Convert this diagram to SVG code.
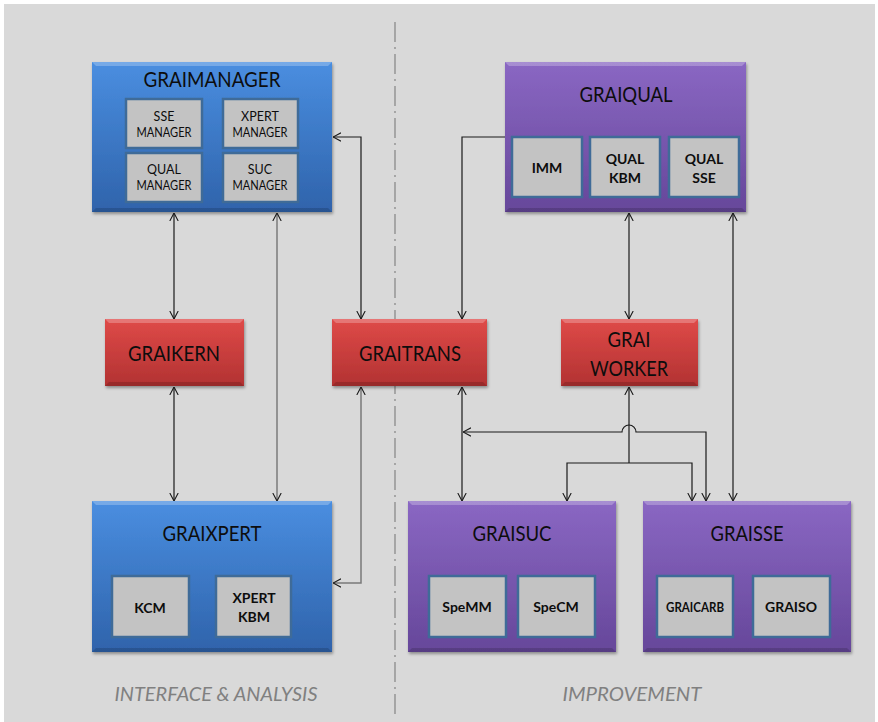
<svg xmlns="http://www.w3.org/2000/svg" width="878" height="722" viewBox="0 0 878 722">
<defs>
<linearGradient id="gBlue" x1="0" y1="0" x2="0" y2="1"><stop offset="0" stop-color="#4a8ee0"/><stop offset="1" stop-color="#2f63ab"/></linearGradient>
<linearGradient id="gPurple" x1="0" y1="0" x2="0" y2="1"><stop offset="0" stop-color="#8a67c3"/><stop offset="1" stop-color="#66479a"/></linearGradient>
<linearGradient id="gRed" x1="0" y1="0" x2="0" y2="1"><stop offset="0" stop-color="#df4a48"/><stop offset="1" stop-color="#b23232"/></linearGradient>
<filter id="sh" x="-5%" y="-5%" width="112%" height="115%"><feDropShadow dx="1" dy="2" stdDeviation="1.5" flood-color="#000" flood-opacity="0.35"/></filter>
<marker id="ah" viewBox="0 0 8 10" refX="8" refY="5" markerWidth="8" markerHeight="10" markerUnits="userSpaceOnUse" orient="auto-start-reverse"><path d="M0,0.8 L8,5 L0,9.2" fill="none" stroke="#1a1a1a" stroke-width="1.1"/></marker>
<style>
.box{filter:url(#sh)}
.blue{fill:url(#gBlue)}
.purple{fill:url(#gPurple)}
.red{fill:url(#gRed)}
.hi{fill:#ffffff;opacity:0.25}
.lo{fill:#000000;opacity:0.15}
.inner{fill:#c3c3c3;stroke:#3f6b98;stroke-width:2.5}
.t{font-family:Lato,"Liberation Sans",sans-serif;fill:#0d0d0d;text-anchor:middle}
.title{font-size:21px}
.small{font-size:12.5px}
.bold{font-size:14px;font-weight:bold}
.lbl{font-family:Lato,"Liberation Sans",sans-serif;font-style:italic;font-size:19px;fill:#808080;text-anchor:middle}
.c{fill:none;stroke:#1a1a1a;stroke-width:1.2}
.cg{fill:none;stroke:#7a7a7a;stroke-width:1.5}
</style>
</defs>
<rect x="0" y="0" width="878" height="722" fill="#ffffff"/>
<rect x="4" y="4" width="871" height="718" fill="#d9d9d9"/>
<path d="M395,22 V716" stroke="#8a8a8a" stroke-width="1.3" stroke-dasharray="20 5 2 5" fill="none"/>

<g id="graimanager">
<rect class="box blue" x="92" y="62" width="240" height="150"/>
<polygon class="hi" points="92,62 332,62 328,66 96,66"/>
<polygon class="lo" points="92,212 332,212 328,208 96,208"/>
<text class="t title" x="212" y="87" textLength="137" lengthAdjust="spacingAndGlyphs">GRAIMANAGER</text>
<rect class="inner" x="126" y="99" width="76" height="49"/>
<text class="t small" x="164" y="121">SSE</text><text class="t small" x="164" y="137" textLength="55" lengthAdjust="spacingAndGlyphs">MANAGER</text>
<rect class="inner" x="223" y="99" width="75" height="49"/>
<text class="t small" x="260" y="121">XPERT</text><text class="t small" x="260" y="137" textLength="55" lengthAdjust="spacingAndGlyphs">MANAGER</text>
<rect class="inner" x="126" y="153" width="76" height="49"/>
<text class="t small" x="164" y="174">QUAL</text><text class="t small" x="164" y="190" textLength="55" lengthAdjust="spacingAndGlyphs">MANAGER</text>
<rect class="inner" x="223" y="153" width="75" height="49"/>
<text class="t small" x="260" y="174">SUC</text><text class="t small" x="260" y="190" textLength="55" lengthAdjust="spacingAndGlyphs">MANAGER</text>
</g>

<g id="graiqual">
<rect class="box purple" x="505" y="62" width="241" height="150"/>
<polygon class="hi" points="505,62 746,62 742,66 509,66"/>
<polygon class="lo" points="505,212 746,212 742,208 509,208"/>
<text class="t title" x="626" y="102" textLength="93" lengthAdjust="spacingAndGlyphs">GRAIQUAL</text>
<rect class="inner" x="512" y="137" width="70" height="60"/>
<text class="t bold" x="547" y="173">IMM</text>
<rect class="inner" x="590" y="137" width="70" height="60"/>
<text class="t bold" x="625" y="164">QUAL</text><text class="t bold" x="625" y="183">KBM</text>
<rect class="inner" x="669" y="137" width="70" height="60"/>
<text class="t bold" x="704" y="164">QUAL</text><text class="t bold" x="704" y="183">SSE</text>
</g>

<g id="graikern">
<rect class="box red" x="105" y="319" width="139" height="67"/>
<polygon class="hi" points="105,319 244,319 240,323 109,323"/>
<polygon class="lo" points="105,386 244,386 240,382 109,382"/>
<text class="t title" x="174" y="361" textLength="92" lengthAdjust="spacingAndGlyphs">GRAIKERN</text>
</g>

<g id="graitrans">
<rect class="box red" x="332" y="319" width="155" height="67"/>
<polygon class="hi" points="332,319 487,319 483,323 336,323"/>
<polygon class="lo" points="332,386 487,386 483,382 336,382"/>
<text class="t title" x="410" y="361" textLength="102" lengthAdjust="spacingAndGlyphs">GRAITRANS</text>
</g>

<g id="graiworker">
<rect class="box red" x="561" y="319" width="137" height="67"/>
<polygon class="hi" points="561,319 698,319 694,323 565,323"/>
<polygon class="lo" points="561,386 698,386 694,382 565,382"/>
<text class="t title" x="629" y="347" textLength="43" lengthAdjust="spacingAndGlyphs">GRAI</text>
<text class="t title" x="629" y="376" textLength="78" lengthAdjust="spacingAndGlyphs">WORKER</text>
</g>

<g id="graixpert">
<rect class="box blue" x="92" y="501" width="240" height="151"/>
<polygon class="hi" points="92,501 332,501 328,505 96,505"/>
<polygon class="lo" points="92,652 332,652 328,648 96,648"/>
<text class="t title" x="212" y="541" textLength="99" lengthAdjust="spacingAndGlyphs">GRAIXPERT</text>
<rect class="inner" x="112" y="576" width="77" height="61"/>
<text class="t bold" x="150" y="613">KCM</text>
<rect class="inner" x="216" y="576" width="75" height="61"/>
<text class="t bold" x="254" y="603">XPERT</text><text class="t bold" x="254" y="622">KBM</text>
</g>

<g id="graisuc">
<rect class="box purple" x="408" y="501" width="208" height="151"/>
<polygon class="hi" points="408,501 616,501 612,505 412,505"/>
<polygon class="lo" points="408,652 616,652 612,648 412,648"/>
<text class="t title" x="512" y="541" textLength="79" lengthAdjust="spacingAndGlyphs">GRAISUC</text>
<rect class="inner" x="429" y="576" width="77" height="61"/>
<text class="t bold" x="467" y="612">SpeMM</text>
<rect class="inner" x="518" y="576" width="77" height="61"/>
<text class="t bold" x="556" y="612">SpeCM</text>
</g>

<g id="graisse">
<rect class="box purple" x="643" y="501" width="208" height="151"/>
<polygon class="hi" points="643,501 851,501 847,505 647,505"/>
<polygon class="lo" points="643,652 851,652 847,648 647,648"/>
<text class="t title" x="747" y="541" textLength="73" lengthAdjust="spacingAndGlyphs">GRAISSE</text>
<rect class="inner" x="657" y="576" width="76" height="61"/>
<text class="t bold" x="695" y="612" textLength="58" lengthAdjust="spacingAndGlyphs">GRAICARB</text>
<rect class="inner" x="753" y="576" width="77" height="61"/>
<text class="t bold" x="791" y="612">GRAISO</text>
</g>

<g id="connectors">
<path class="c" d="M174,213 V319" marker-start="url(#ah)" marker-end="url(#ah)"/>
<path class="c" d="M174,387 V501" marker-start="url(#ah)" marker-end="url(#ah)"/>
<path class="cg" d="M277,213 V501" marker-start="url(#ah)" marker-end="url(#ah)"/>
<path class="c" d="M333,137 H361 V319" marker-start="url(#ah)" marker-end="url(#ah)"/>
<path class="c" d="M505,137 H462 V319" marker-end="url(#ah)"/>
<path class="cg" d="M361,387 V583 H333" marker-start="url(#ah)" marker-end="url(#ah)"/>
<path class="c" d="M462,387 V501" marker-start="url(#ah)" marker-end="url(#ah)"/>
<path class="c" d="M629,213 V319" marker-start="url(#ah)" marker-end="url(#ah)"/>
<path class="c" d="M733,213 V501" marker-start="url(#ah)" marker-end="url(#ah)"/>
<path class="c" d="M629,463 V387" marker-end="url(#ah)"/>
<path class="c" d="M567,501 V463 H692 V501" marker-start="url(#ah)" marker-end="url(#ah)"/>
<path class="c" d="M706,501 V432 H636 A7,7 0 0 0 622,432 H463" marker-start="url(#ah)" marker-end="url(#ah)"/>
</g>

<text class="lbl" x="216" y="701" textLength="203" lengthAdjust="spacingAndGlyphs">INTERFACE &amp; ANALYSIS</text>
<text class="lbl" x="632" y="701" textLength="139" lengthAdjust="spacingAndGlyphs">IMPROVEMENT</text>
</svg>
